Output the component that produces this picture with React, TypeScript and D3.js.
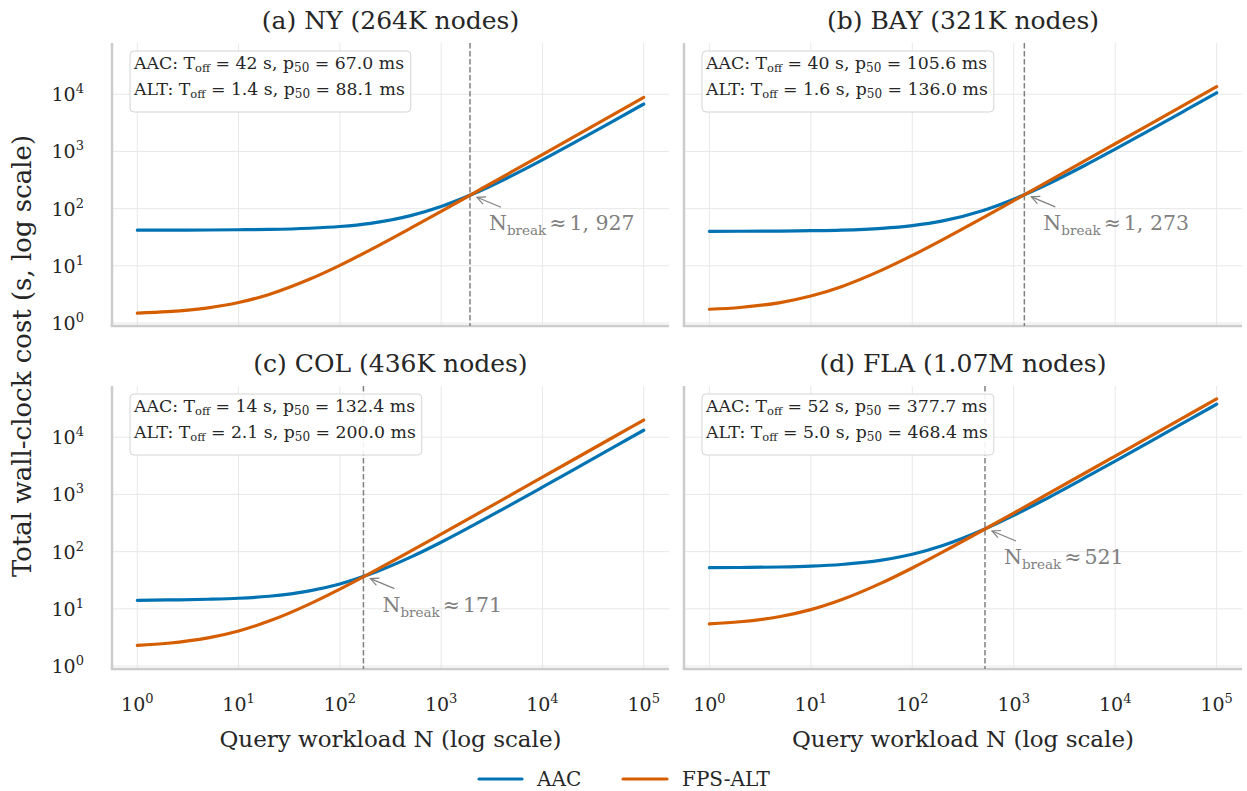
import React, { useLayoutEffect, useRef, useState } from 'react';
import * as d3 from 'd3';

// query workload N sampled along the x axis
const workload = [1, 2, 5, 10, 20, 50, 100, 200, 500, 1000, 2000, 5000, 10000, 20000, 50000, 100000];

// total wall-clock cost (s)
const nyAac = [42.1, 42.1, 42.3, 42.7, 43.3, 45.4, 48.7, 55.4, 75.5, 109, 176, 377, 712, 1382, 3392, 6742];
const nyAlt = [1.49, 1.58, 1.84, 2.28, 3.16, 5.81, 10.2, 19.0, 45.5, 89.5, 178, 442, 882, 1763, 4406, 8811];
const bayAac = [40.1, 40.2, 40.5, 41.1, 42.1, 45.3, 50.6, 61.1, 92.8, 146, 251, 568, 1096, 2152, 5320, 10600];
const bayAlt = [1.74, 1.87, 2.28, 2.96, 4.32, 8.4, 15.2, 28.8, 69.6, 138, 274, 682, 1362, 2722, 6802, 13602];
const colAac = [14.1, 14.3, 14.7, 15.3, 16.6, 20.6, 27.2, 40.5, 80.2, 146, 279, 676, 1338, 2662, 6634, 13254];
const colAlt = [2.3, 2.5, 3.1, 4.1, 6.1, 12.1, 22.1, 42.1, 102, 202, 402, 1002, 2002, 4002, 10002, 20002];
const flaAac = [52.4, 52.8, 53.9, 55.8, 59.6, 70.9, 89.8, 128, 241, 430, 807, 1941, 3829, 7606, 18937, 37822];
const flaAlt = [5.47, 5.94, 7.34, 9.68, 14.4, 28.4, 51.8, 98.7, 239, 473, 942, 2347, 4689, 9373, 23425, 46845];

const aacSeries = [nyAac, bayAac, colAac, flaAac];
const altSeries = [nyAlt, bayAlt, colAlt, flaAlt];

const panelTitles = ['(a) NY (264K nodes)', '(b) BAY (321K nodes)', '(c) COL (436K nodes)', '(d) FLA (1.07M nodes)'];
const aacToff = ['42', '40', '14', '52'];
const aacP50 = ['67.0', '105.6', '132.4', '377.7'];
const altToff = ['1.4', '1.6', '2.1', '5.0'];
const altP50 = ['88.1', '136.0', '200.0', '468.4'];
const breakN = [1927, 1273, 171, 521];
const breakCost = [171, 174, 36.6, 249];
const breakLabels = ['1, 927', '1, 273', '171', '521'];

const xTicks = [0, 1, 2, 3, 4, 5];
const yTicks = [0, 1, 2, 3, 4];

const BLUE = '#0173b2';
const ORANGE = '#d55e00';
const TEXT = '#262626';
const FONT = '"DejaVu Serif", serif';

const W = 1247;
const H = 791;
const cols = [[112, 669], [684, 1242]];
const rows = [[43, 326], [386, 669]];

const InfoBox = ({ x, y, i }: { x: number; y: number; i: number }) => {
  const ref = useRef<SVGGElement>(null);
  const [w, setW] = useState(285);
  useLayoutEffect(() => {
    if (ref.current) setW(ref.current.getBBox().width + 9);
  }, []);
  const row = (label: string, toff: string, p50: string, by: number) => (
    <text x={x + 4} y={y + by} fontSize={17.3} fill={TEXT}>
      {label}: T<tspan fontSize={11.5} dy={3}>off</tspan>
      <tspan dy={-3}> = {toff} s, p</tspan>
      <tspan fontSize={12} dy={3}>50</tspan>
      <tspan dy={-3}> = {p50} ms</tspan>
    </text>
  );
  return (
    <g>
      <rect x={x} y={y} width={w} height={61} rx={4} fill="white" fillOpacity={0.9} stroke="#d4d4d4" />
      <g ref={ref}>
        {row('AAC', aacToff[i], aacP50[i], 18)}
        {row('ALT', altToff[i], altP50[i], 44)}
      </g>
    </g>
  );
};

const Panel = ({ i }: { i: number }) => {
  const [x0, x1] = cols[i % 2];
  const [y0, y1] = rows[Math.floor(i / 2)];
  const x = d3.scaleLog().domain([10 ** -0.25, 10 ** 5.25]).range([x0, x1]);
  const y = d3.scaleLog().domain([10 ** -0.052, 10 ** 4.896]).range([y1, y0]);
  const line = d3
    .line<number>()
    .x((_, k) => x(workload[k]))
    .y((d) => y(d))
    .curve(d3.curveMonotoneX);

  const px = x(breakN[i]);
  const py = y(breakCost[i]);
  // arrow from label to crossover point
  const hx = px + 7;
  const hy = py + 2;
  const tx = px + 31;
  const ty = py + 12;
  const ang = Math.atan2(ty - hy, tx - hx);
  const hl = 9;
  const hw = 0.45;
  const showX = i >= 2;
  const showY = i % 2 === 0;

  return (
    <g fontFamily={FONT}>
      {xTicks.map((e) => (
        <line key={'gx' + e} x1={x(10 ** e)} x2={x(10 ** e)} y1={y0} y2={y1} stroke="#e8e8e8" strokeWidth={1} />
      ))}
      {yTicks.map((e) => (
        <line key={'gy' + e} x1={x0} x2={x1} y1={y(10 ** e)} y2={y(10 ** e)} stroke="#e8e8e8" strokeWidth={1} />
      ))}
      <line x1={x0} x2={x0} y1={y0} y2={y1} stroke="#cccccc" strokeWidth={2.5} />
      <line x1={x0 - 1.25} x2={x1} y1={y1} y2={y1} stroke="#cccccc" strokeWidth={2.5} />
      <line x1={px} x2={px} y1={y0} y2={y1} stroke="#808080" strokeWidth={1.5} strokeDasharray="5.5,2.5" />
      <path d={line(aacSeries[i]) || ''} fill="none" stroke={BLUE} strokeWidth={3.2} strokeLinecap="round" />
      <path d={line(altSeries[i]) || ''} fill="none" stroke={ORANGE} strokeWidth={3.2} strokeLinecap="round" />
      <line x1={tx} y1={ty} x2={hx} y2={hy} stroke="#808080" strokeWidth={1.2} />
      <path
        d={`M${hx + hl * Math.cos(ang - hw)},${hy + hl * Math.sin(ang - hw)} L${hx},${hy} L${hx + hl * Math.cos(ang + hw)},${hy + hl * Math.sin(ang + hw)}`}
        fill="none"
        stroke="#808080"
        strokeWidth={1.2}
      />
      <text x={px + 19} y={py + 35} fontSize={20.5} fill="#808080">
        N<tspan fontSize={13.5} dy={5}>break</tspan>
        <tspan dy={-5} dx={3}>≈</tspan>
        <tspan dx={3}>{breakLabels[i]}</tspan>
      </text>
      <InfoBox x={x0 + 18} y={y0 + 8} i={i} />
      <text x={(x0 + x1) / 2} y={y0 - 14} fontSize={25} fill={TEXT} textAnchor="middle">
        {panelTitles[i]}
      </text>
      {showY &&
        yTicks.map((e) => (
          <text key={'ty' + e} x={x0 - 28} y={y(10 ** e) + 7} fontSize={19} fill={TEXT} textAnchor="end">
            10<tspan fontSize={13} dy={-8}>{e}</tspan>
          </text>
        ))}
      {showX &&
        xTicks.map((e) => (
          <text key={'tx' + e} x={x(10 ** e)} y={y1 + 42} fontSize={19} fill={TEXT} textAnchor="middle">
            10<tspan fontSize={13} dy={-8}>{e}</tspan>
          </text>
        ))}
      {showX && (
        <text x={(x0 + x1) / 2} y={y1 + 78} fontSize={23} fill={TEXT} textAnchor="middle">
          Query workload N (log scale)
        </text>
      )}
    </g>
  );
};

export default function App() {
  return (
    <svg width={W} height={H} style={{ position: 'absolute', left: 0, top: 0, background: 'white' }} fontFamily={FONT}>
      {[0, 1, 2, 3].map((i) => (
        <Panel key={i} i={i} />
      ))}
      <text
        transform={`translate(31,${(rows[0][0] + rows[1][1]) / 2}) rotate(-90)`}
        fontSize={26}
        fill={TEXT}
        textAnchor="middle"
      >
        Total wall-clock cost (s, log scale)
      </text>
      <line x1={479} x2={522} y1={779} y2={779} stroke={BLUE} strokeWidth={3.2} strokeLinecap="round" />
      <text x={537} y={786} fontSize={20} fill={TEXT}>AAC</text>
      <line x1={623} x2={667} y1={779} y2={779} stroke={ORANGE} strokeWidth={3.2} strokeLinecap="round" />
      <text x={682} y={786} fontSize={20} fill={TEXT}>FPS-ALT</text>
    </svg>
  );
}
